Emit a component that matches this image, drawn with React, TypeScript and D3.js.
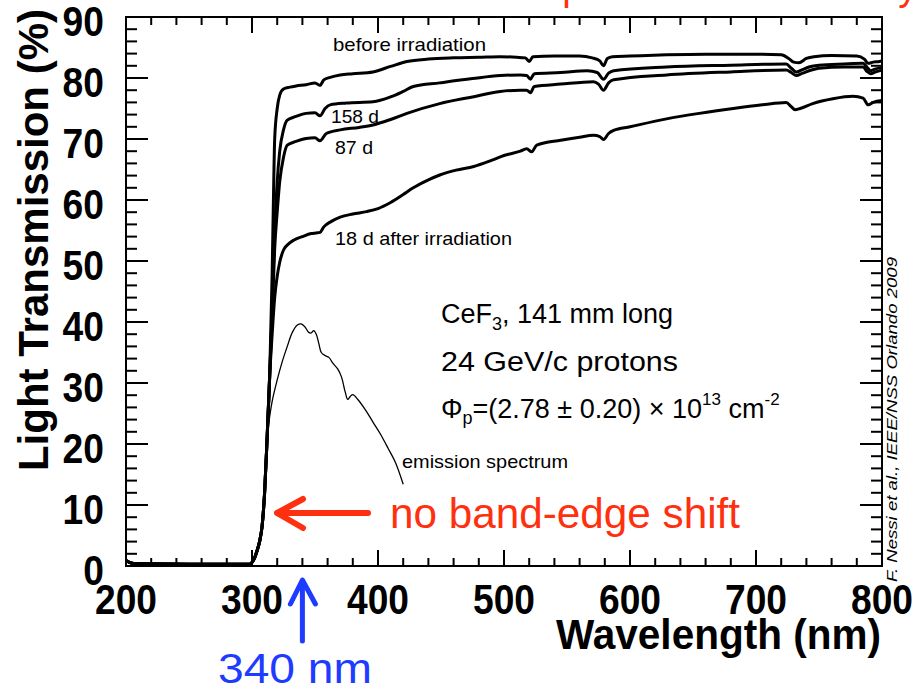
import React from 'react';
import * as d3 from 'd3';

const W = 914;
const H = 691;
const PLOT = { left: 126, right: 882, top: 17, bottom: 566 };

const xTickValues = [200, 300, 400, 500, 600, 700, 800];
const yTickValues = [0, 10, 20, 30, 40, 50, 60, 70, 80, 90];

// shared absorption edge (all curves coincide below ~315 nm)
const riseEdge: [number, number][] = [
  [200, 0.9], [204, 0.5], [210, 0.35], [250, 0.3], [298, 0.3], [300, 0.6],
  [302, 1.3], [304, 2.5], [306, 4], [308, 6.5], [310, 12], [312, 21], [314, 31],
];

const beforeIrr: [number, number][] = [
  [316, 48], [317, 60], [318, 70], [320, 75], [322, 77.2], [325, 78.2], [330, 78.5],
  [335, 78.7], [343, 78.9], [350, 79.2], [354, 78.8], [357, 79.7], [362, 80.1],
  [370, 80.5], [380, 80.7], [396, 81.0], [410, 81.9], [423, 82.7], [440, 83.1],
  [460, 83.3], [480, 83.4], [497, 83.5], [510, 83.4], [517, 83.3], [520, 82.7],
  [523, 83.5], [540, 83.6], [560, 83.6], [570, 83.3], [576, 82.8], [579, 82.0],
  [582, 83.2], [586, 83.5], [600, 83.6], [629, 83.8], [660, 83.9], [700, 83.9],
  [720, 83.8], [726, 83.2], [730, 82.6], [734, 82.5], [740, 83.2], [746, 83.5],
  [760, 83.7], [780, 83.6], [786, 83.1], [789, 82.4], [793, 82.6], [798, 82.7], [800, 82.8],
];

const day158: [number, number][] = [
  [316, 42], [318, 55], [320, 63], [322, 68], [325, 71.5], [328, 73.1], [335, 73.7],
  [343, 74.2], [350, 74.3], [354, 73.8], [358, 75.0], [362, 75.6], [375, 75.9],
  [396, 76.1], [410, 76.9], [420, 77.8], [428, 78.6], [449, 79.2], [475, 79.9],
  [497, 80.4], [513, 80.5], [518, 80.4], [521, 79.8], [524, 80.7], [545, 80.9],
  [566, 81.2], [574, 80.9], [579, 79.8], [583, 80.8], [587, 81.2], [629, 81.8],
  [680, 82.1], [724, 82.3], [728, 81.6], [732, 81.0], [736, 81.3], [742, 81.8],
  [750, 82.1], [770, 82.3], [785, 82.4], [788, 81.8], [791, 81.2], [795, 81.5], [800, 81.7],
];

const day87: [number, number][] = [
  [316, 41], [318, 52], [320, 58], [322, 63], [325, 67], [328, 69], [335, 69.6],
  [343, 70.1], [350, 70.2], [354, 69.7], [359, 70.9], [370, 71.5], [385, 71.9],
  [396, 72.3], [410, 73.2], [423, 74.2], [449, 75.8], [475, 76.9], [497, 77.8],
  [513, 78.0], [518, 78.0], [521, 77.6], [524, 78.6], [545, 79.0], [571, 79.4],
  [575, 79.0], [579, 78.0], [583, 79.2], [587, 79.7], [629, 80.5], [680, 81.0],
  [724, 81.3], [728, 80.9], [732, 80.4], [737, 80.8], [750, 81.6], [770, 81.8],
  [785, 81.8], [788, 81.1], [791, 80.7], [795, 81.0], [800, 81.3],
];

const day18: [number, number][] = [
  [316, 38], [318, 44], [320, 47.5], [322, 49.8], [325, 51.8], [329, 52.8], [333, 53.4],
  [340, 54.0], [347, 54.5], [351, 54.6], [354, 54.7], [357, 55.6], [363, 56.5],
  [370, 57.2], [380, 57.7], [391, 58.1], [400, 58.6], [410, 59.6], [420, 60.9],
  [428, 62.0], [440, 63.3], [449, 64.1], [462, 64.9], [476, 65.5], [490, 66.5],
  [500, 67.3], [513, 68.0], [518, 68.4], [522, 67.9], [526, 69.0], [545, 69.8],
  [560, 70.3], [571, 70.6], [576, 70.4], [579, 69.9], [583, 70.9], [587, 71.4],
  [600, 72.0], [629, 73.3], [655, 74.2], [682, 75.0], [705, 75.6], [724, 76.0],
  [728, 75.3], [731, 74.8], [735, 75.0], [745, 75.8], [761, 76.6], [777, 77.0],
  [785, 76.7], [789, 75.6], [793, 76.0], [800, 76.3],
];

const emission: [number, number][] = [
  [313, 23], [316, 27], [320, 30.5], [324, 33.5], [328, 36], [332, 38.3], [336, 39.5],
  [339, 39.7], [342, 39.2], [345, 38.3], [347, 38.2], [349, 38.6], [351, 38.0],
  [353, 36.5], [355, 35.0], [358, 34.5], [361, 34.2], [364, 33.3], [368, 32.3],
  [371, 31.0], [374, 28.5], [376, 27.3], [378, 27.8], [380, 28.1], [384, 27.3],
  [390, 25.6], [396, 23.6], [402, 21.6], [408, 19.3], [414, 16.9], [420, 13.4],
];

const curveLabels = [
  { text: 'before irradiation', x: 333, y: 51, len: 153 },
  { text: '158 d', x: 331, y: 123, len: 48 },
  { text: '87 d', x: 335, y: 154, len: 38 },
  { text: '18 d after irradiation', x: 335, y: 245, len: 177 },
  { text: 'emission spectrum', x: 402, y: 468, len: 166 },
];

const FONT = '"Liberation Sans", Arial, Helvetica, sans-serif';

export default function App() {
  const x = d3.scaleLinear().domain([200, 800]).range([PLOT.left, PLOT.right]);
  const y = d3.scaleLinear().domain([0, 90]).range([PLOT.bottom, PLOT.top]);

  const line = d3
    .line<[number, number]>()
    .x((d) => x(d[0]))
    .y((d) => y(d[1]))
    .curve(d3.curveMonotoneX);
  const smooth = d3
    .line<[number, number]>()
    .x((d) => x(d[0]))
    .y((d) => y(d[1]))
    .curve(d3.curveCatmullRom);

  const series = [beforeIrr, day158, day87, day18].map((s) => riseEdge.concat(s));

  const xMinor = d3.range(200, 801, 20);
  const yMinor = d3.range(0, 91, 2);

  const red = '#ff3010';
  const blue = '#1d3cff';

  return (
    <svg
      width={W}
      height={H}
      style={{ position: 'absolute', left: 0, top: 0, background: '#fff' }}
      fontFamily={FONT}
    >
      <rect x={0} y={0} width={W} height={H} fill="#fff" />
      {/* clipped slide title */}
      <text x={537} y={0} fontSize={38} fill={red}>Spontaneous recovery</text>

      {/* curves */}
      {series.map((s, i) => (
        <path key={i} d={line(s) || ''} fill="none" stroke="#000" strokeWidth={3} strokeLinejoin="round" />
      ))}
      <path d={smooth(emission) || ''} fill="none" stroke="#000" strokeWidth={1.3} />

      {/* ticks */}
      <g stroke="#000" strokeWidth={2}>
        {xMinor.map((v) => {
          const major = v % 100 === 0;
          const len = major ? 16 : 8;
          return (
            <g key={'x' + v}>
              <line x1={x(v)} x2={x(v)} y1={PLOT.bottom} y2={PLOT.bottom - len} />
              <line x1={x(v)} x2={x(v)} y1={PLOT.top} y2={PLOT.top + len} />
            </g>
          );
        })}
        {yMinor.map((v) => {
          const major = v % 10 === 0;
          const len = major ? 22 : 11;
          return (
            <g key={'y' + v}>
              <line x1={PLOT.left} x2={PLOT.left + len} y1={y(v)} y2={y(v)} />
              <line x1={PLOT.right} x2={PLOT.right - len} y1={y(v)} y2={y(v)} />
            </g>
          );
        })}
        <rect
          x={PLOT.left}
          y={PLOT.top}
          width={PLOT.right - PLOT.left}
          height={PLOT.bottom - PLOT.top}
          fill="none"
        />
      </g>

      {/* tick labels */}
      {xTickValues.map((v) => (
        <text
          key={'xl' + v}
          transform={`translate(${x(v)},614) scale(0.886,1)`}
          textAnchor="middle"
          fontSize={42}
          fontWeight="bold"
        >
          {v}
        </text>
      ))}
      {yTickValues.map((v) => (
        <text
          key={'yl' + v}
          transform={`translate(104,${y(v) + 19}) scale(0.886,1)`}
          textAnchor="end"
          fontSize={42}
          fontWeight="bold"
        >
          {v}
        </text>
      ))}

      {/* axis titles */}
      <text x={881} y={649} textAnchor="end" fontSize={42} fontWeight="bold" textLength={325} lengthAdjust="spacingAndGlyphs">
        Wavelength (nm)
      </text>
      <text
        transform="translate(48,9) rotate(-90)"
        textAnchor="end"
        fontSize={42}
        fontWeight="bold"
      >
        Light Transmission (%)
      </text>

      {/* curve labels */}
      {curveLabels.map((l) => (
        <text key={l.text} x={l.x} y={l.y} fontSize={19} textLength={l.len} lengthAdjust="spacingAndGlyphs">
          {l.text}
        </text>
      ))}

      {/* info block */}
      <text x={441} y={323} fontSize={27}>
        CeF<tspan fontSize={18} dy={7}>3</tspan>
        <tspan dy={-7}>, 141 mm long</tspan>
      </text>
      <text x={441} y={371} fontSize={27} textLength={237} lengthAdjust="spacingAndGlyphs">
        24 GeV/c protons
      </text>
      <text x={441} y={418} fontSize={27}>
        Φ<tspan fontSize={18} dy={6}>p</tspan>
        <tspan dy={-6}>=(2.78 ± 0.20) × 10</tspan>
        <tspan fontSize={17} dy={-13}>13</tspan>
        <tspan dy={13}> cm</tspan>
        <tspan fontSize={17} dy={-13}>-2</tspan>
      </text>

      {/* credit */}
      <text
        transform="translate(897,582) rotate(-90)"
        fontSize={15}
        fontStyle="italic"
        textLength={325}
        lengthAdjust="spacingAndGlyphs"
      >
        F. Nessi et al.,  IEEE/NSS Orlando 2009
      </text>

      {/* red annotation */}
      <g stroke={red} strokeWidth={6} strokeLinecap="round" strokeLinejoin="round" fill="none">
        <line x1={368} y1={513} x2={278} y2={513} />
        <polyline points="303,499 277,513 303,528" />
      </g>
      <text x={390} y={528} fontSize={42} fill={red} textLength={350} lengthAdjust="spacingAndGlyphs">
        no band-edge shift
      </text>

      {/* blue annotation */}
      <g stroke={blue} strokeWidth={5} strokeLinecap="round" strokeLinejoin="round" fill="none">
        <line x1={x(340)} y1={641} x2={x(340)} y2={582} />
        <polyline points={`${x(340) - 12},604 ${x(340)},580 ${x(340) + 13},604`} />
      </g>
      <text x={218} y={683} fontSize={42} fill={blue} textLength={154} lengthAdjust="spacingAndGlyphs">
        340 nm
      </text>
    </svg>
  );
}
